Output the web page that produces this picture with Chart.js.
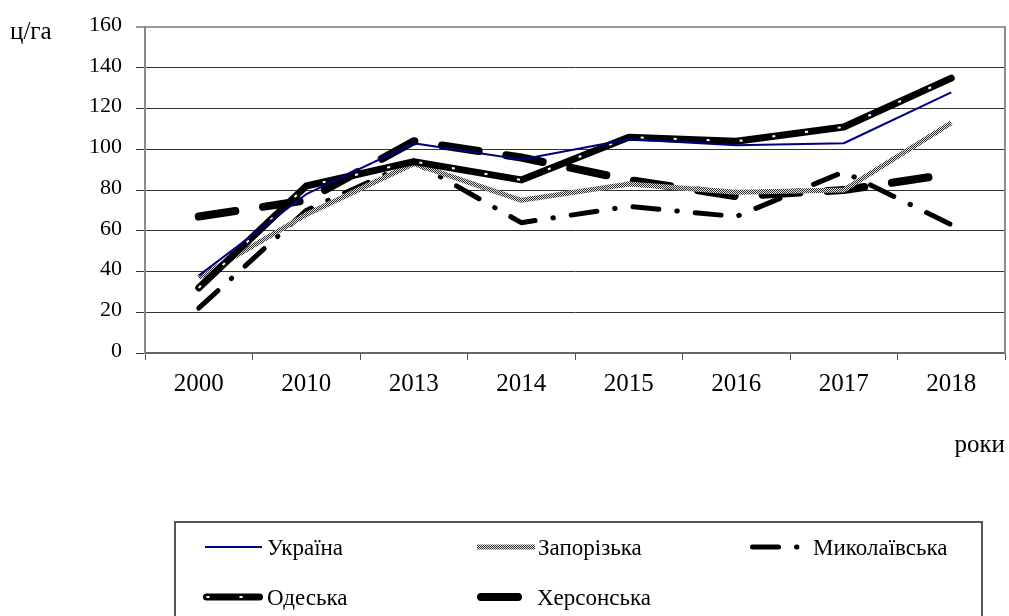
<!DOCTYPE html>
<html>
<head>
<meta charset="utf-8">
<script src="https://cdn.jsdelivr.net/npm/chart.js@4.4.1/dist/chart.umd.min.js"></script>
<style>
  html, body { margin: 0; padding: 0; background: #fff; }
  #wrap { width: 1009px; height: 616px; position: relative; }
</style>
</head>
<body>
<div id="wrap"><canvas id="c" width="1009" height="616"></canvas></div>
<script>
// ---- data ----
const years = ['2000', '2010', '2013', '2014', '2015', '2016', '2017', '2018'];
const ukraine     = [38, 78, 103, 95, 105, 102, 103, 128];
const zaporizka   = [37, 68, 93, 75, 83, 79, 80, 113];
const mykolaivska = [22, 70, 94, 64, 72, 67, 89, 63];
const odeska      = [32, 82, 94, 85, 106, 104, 111, 135];
const khersonska  = [67, 75, 104, 96, 85, 77, 80, 88];
const seriesNames = ['Україна', 'Запорізька', 'Миколаївська', 'Одеська', 'Херсонська'];
const yTicks = [0, 20, 40, 60, 80, 100, 120, 140, 160];
const yTitle = 'ц/га';
const xTitle = 'роки';

// ---- styles ----
const FONT = '"Liberation Serif", "Times New Roman", serif';
function makePattern() {
  const p = document.createElement('canvas');
  p.width = 2; p.height = 2;
  const g = p.getContext('2d');
  g.fillStyle = '#e6e6e6'; g.fillRect(0, 0, 2, 2);
  g.fillStyle = '#2a2a2a'; g.fillRect(0, 0, 1, 1); g.fillRect(1, 1, 1, 1);
  return document.getElementById('c').getContext('2d').createPattern(p, 'repeat');
}
const grayPattern = makePattern();

const base = { pointRadius: 0, pointHoverRadius: 0, tension: 0, fill: false, borderJoinStyle: 'round' };
const datasets = [
  Object.assign({}, base, { label: seriesNames[0], data: ukraine, borderColor: '#000080', borderWidth: 2, order: 0 }),
  Object.assign({}, base, { label: seriesNames[1], data: zaporizka, borderColor: grayPattern, borderWidth: 5, order: 3 }),
  Object.assign({}, base, { label: seriesNames[2], data: mykolaivska, borderColor: '#000', borderWidth: 5,
    borderDash: [26, 18, 0.5, 18], borderCapStyle: 'round', order: 4 }),
  Object.assign({}, base, { label: seriesNames[3], data: odeska, borderColor: '#000', borderWidth: 7,
    borderCapStyle: 'round', order: 2 }),
  Object.assign({}, base, { label: seriesNames[3] + ' (штрих)', data: odeska, borderColor: '#fff', borderWidth: 2,
    borderDash: [3, 30], borderCapStyle: 'butt', order: 1 }),
  Object.assign({}, base, { label: seriesNames[4], data: khersonska, borderColor: '#000', borderWidth: 8,
    borderDash: [37, 28], borderCapStyle: 'round', order: 5 })
];

// legend layout
const legendLayout = [
  { ds: [0], x0: 205, x1: 262, y: 547, tx: 267, ty: 555 },
  { ds: [1], x0: 477, x1: 535, y: 547, tx: 538, ty: 555 },
  { ds: [2], x0: 752.5, x1: 800, y: 547, tx: 813, ty: 555 },
  { ds: [3, 4], x0: 206.5, x1: 259.5, y: 597, tx: 267, ty: 605 },
  { ds: [5], x0: 481, x1: 521, y: 597, tx: 537, ty: 605 }
];
const legendText = [seriesNames[0], seriesNames[1], seriesNames[2], seriesNames[3], seriesNames[4]];

const decor = {
  id: 'decor',
  afterDraw(chart) {
    const ctx = chart.ctx, a = chart.chartArea;
    ctx.save();
    // plot area right border
    ctx.strokeStyle = '#8c8c8c'; ctx.lineWidth = 2; ctx.setLineDash([]);
    ctx.beginPath(); ctx.moveTo(a.right, a.top - 1); ctx.lineTo(a.right, a.bottom); ctx.stroke();
    // axis titles
    ctx.fillStyle = '#000';
    ctx.textBaseline = 'alphabetic';
    ctx.font = '25px ' + FONT; ctx.textAlign = 'left';
    ctx.fillText(yTitle, 10, 39);
    ctx.font = '25px ' + FONT; ctx.textAlign = 'right';
    ctx.fillText(xTitle, 1005, 452);
    // legend box
    ctx.strokeStyle = '#555'; ctx.lineWidth = 2;
    ctx.beginPath();
    ctx.moveTo(175, 625); ctx.lineTo(175, 522); ctx.lineTo(982, 522); ctx.lineTo(982, 625);
    ctx.stroke();
    // legend entries
    legendLayout.forEach((item, i) => {
      item.ds.forEach(di => {
        const ds = chart.data.datasets[di];
        ctx.strokeStyle = ds.borderColor;
        ctx.lineWidth = ds.borderWidth;
        ctx.lineCap = ds.borderCapStyle || 'butt';
        ctx.setLineDash(ds.borderDash || []);
        ctx.beginPath(); ctx.moveTo(item.x0, item.y); ctx.lineTo(item.x1, item.y); ctx.stroke();
      });
      ctx.setLineDash([]);
      ctx.fillStyle = '#000';
      ctx.font = '23px ' + FONT; ctx.textAlign = 'left'; ctx.textBaseline = 'alphabetic';
      ctx.fillText(legendText[i], item.tx, item.ty);
    });
    ctx.restore();
  }
};

new Chart(document.getElementById('c'), {
  type: 'line',
  data: { labels: years, datasets: datasets },
  options: {
    responsive: false,
    animation: false,
    events: [],
    layout: { padding: { left: 0, right: 4, top: 20, bottom: 0 } },
    plugins: { legend: { display: false }, tooltip: { enabled: false }, title: { display: false } },
    scales: {
      x: {
        type: 'category',
        offset: true,
        grid: { offset: true, drawOnChartArea: false, drawTicks: true, tickLength: 7, color: '#555', lineWidth: 1 },
        border: { display: true, color: '#666', width: 2 },
        ticks: { font: { family: FONT, size: 25 }, color: '#000', padding: 9, maxRotation: 0, autoSkip: false },
        afterFit(s) { s.height = 263; }
      },
      y: {
        min: 0, max: 160,
        afterBuildTicks(s) { s.ticks = yTicks.map(v => ({ value: v })); },
        grid: {
          color: c => (c.tick && c.tick.value === 160) ? '#999' : '#333',
          lineWidth: c => (c.tick && c.tick.value === 160) ? 2 : 1,
          tickLength: 9, drawTicks: true
        },
        border: { display: true, color: '#888', width: 2 },
        ticks: { font: { family: FONT, size: 22 }, color: '#000', padding: 14, labelOffset: -2 },
        afterFit(s) { s.width = 145; }
      }
    }
  },
  plugins: [decor]
});
</script>
</body>
</html>
